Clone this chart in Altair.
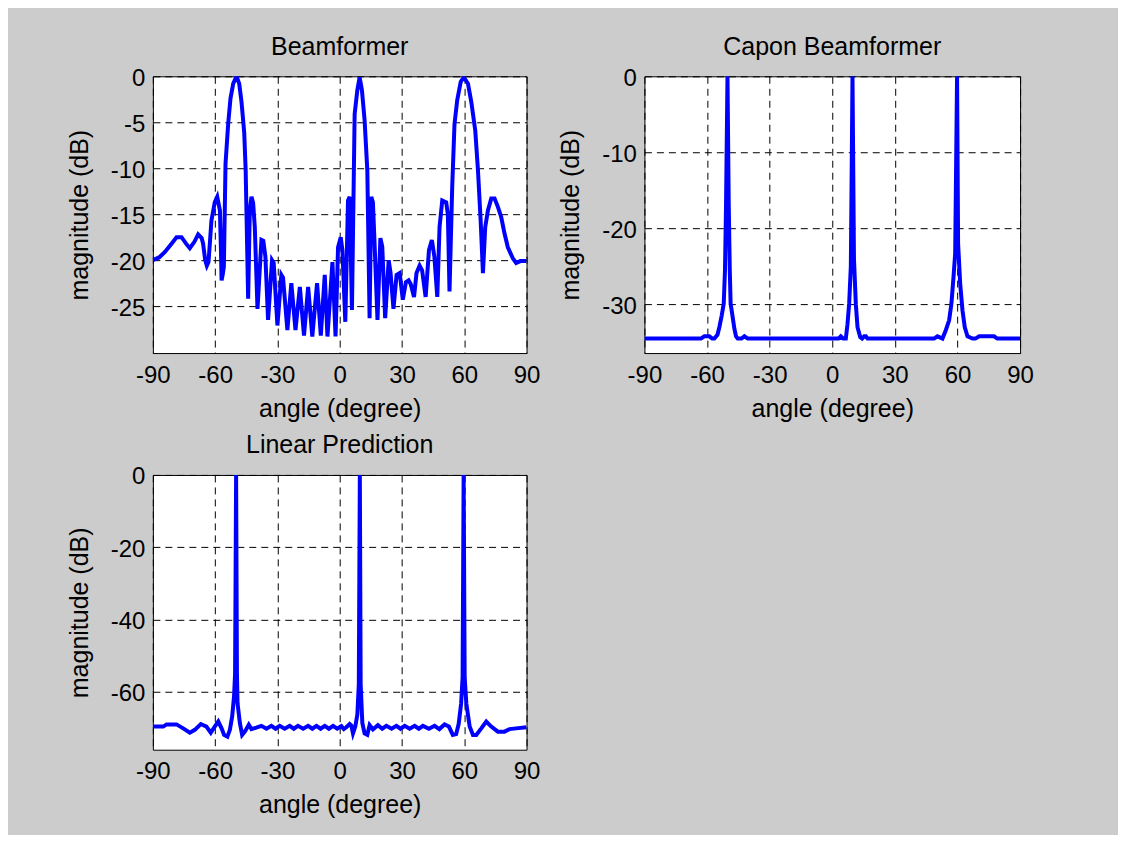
import altair as alt
import pandas as pd

FONT = "Liberation Sans"

# ---------------- data ----------------
bf_angle = [-90, -87, -84.2, -81, -78.6, -76.2, -74, -72.2, -70, -68.2, -66.5, -65.8, -64.8, -64.0, -63.2,
            -62.5, -61.8, -60.2, -59.0, -57.7, -57.2, -56.9, -56.3, -55.8, -55.0, -53.7, -52.6, -51.3,
            -49.7, -48.4, -47.3, -46.0, -45.3, -44.1, -43.3, -42.5, -41.7, -40.9, -39.6, -37.7, -36.8,
            -35.8, -34.5, -32.6, -31.8, -30.0, -28.1, -27.3, -25.2, -23.3, -21.3, -19.2, -17.2, -15.2,
            -13.2, -10.9, -9.1, -7.2, -5.9, -3.5, -2.0, -0.8, 0.5, 1.3, 2.7, 4.0, 4.8, 5.9, 7.2, 8.5,
            9.6, 10.7, 12.0, 13.3, 14.4, 15.2, 16.0, 16.8, 18.2, 19.6, 20.5, 21.9, 23.6, 24.5, 25.9,
            27.4, 28.9, 30.4, 31.9, 33.2, 34.2, 35.8, 37.0, 38.5, 39.7, 41.4, 43.0, 44.4, 45.6, 47.0,
            48.1, 49.4, 51.3, 52.1, 52.9, 54.2, 55.3, 56.6, 58.3, 59.8, 61.8, 63.4, 65.3, 66.6, 67.9,
            69.0, 70.1, 71.4, 73.0, 74.6, 76.2, 77.8, 79.4, 81.0, 83.4, 85.0, 87.0, 90]
bf_db = [-20.0, -19.7, -19.1, -18.2, -17.5, -17.5, -18.2, -18.7, -18.0, -17.2, -17.6, -18.2, -20.0, -20.6,
         -20.2, -18.0, -15.7, -13.7, -13.1, -14.6, -19.0, -22.2, -21.5, -20.7, -9.5, -5.1, -2.4, -0.8,
         0.0, -0.8, -2.8, -6.1, -10.2, -24.2, -14.6, -13.1, -13.8, -16.4, -25.3, -17.8, -17.9, -19.6,
         -26.5, -20.0, -20.3, -27.1, -21.6, -21.9, -27.6, -22.5, -27.6, -22.9, -28.2, -22.9, -28.3,
         -22.5, -28.2, -21.6, -28.3, -20.2, -28.3, -18.6, -17.5, -18.9, -26.7, -13.5, -13.1, -25.4,
         -4.1, -1.5, -0.1, -1.5, -4.8, -10.2, -26.3, -13.1, -13.7, -18.2, -26.5, -17.6, -18.5, -26.3,
         -20.0, -21.4, -25.3, -21.6, -21.4, -24.3, -22.4, -22.2, -22.6, -24.0, -21.4, -20.6, -21.1,
         -24.0, -18.9, -17.8, -19.6, -24.0, -16.4, -13.5, -13.7, -15.0, -23.4, -12.0, -5.2, -2.6,
         -0.6, -0.1, -0.8, -2.8, -5.9, -10.2, -15.7, -21.4, -16.4, -14.6, -13.3, -13.3, -14.2, -15.3,
         -17.1, -18.6, -19.8, -20.3, -20.1, -20.1]

cp_angle = [-90, -62.9, -61.3, -58.9, -57.5, -56.5, -55.0, -54.1, -53.0, -52.0, -51.4, -50.9, -50.2,
            -49.6, -49.1, -48.7, -47.7, -46.9, -46.1, -45.3, -43.5, -42.1, -40.5, 3.0, 4.1, 5.3, 6.5,
            7.3, 8.1, 8.9, 9.7, 10.4, 11.3, 12.1, 13.4, 14.3, 15.3, 16.1, 16.9, 48.8, 50.4, 52.8, 54.4,
            56.0, 57.1, 58.1, 58.9, 59.8, 60.3, 61.3, 62.4, 63.5, 64.8, 67.2, 68.6, 70.4, 77.5, 79.1, 90]
cp_db = [-34.5, -34.5, -34.2, -34.2, -34.5, -34.5, -34.0, -33.0, -31.5, -29.9, -25.5, -17.0, 0.0,
         -17.0, -25.5, -29.9, -31.7, -33.2, -34.2, -34.5, -34.5, -34.2, -34.5, -34.5, -34.2, -34.5,
         -34.5, -32.6, -29.9, -25.0, 0.0, -24.0, -30.0, -33.0, -34.3, -34.5, -34.2, -34.2, -34.5,
         -34.5, -34.2, -34.5, -33.4, -32.1, -29.9, -26.4, -23.3, 0.0, -22.0, -27.3, -30.8, -33.0,
         -34.2, -34.5, -34.5, -34.2, -34.2, -34.5, -34.5]

lp_angle = [-90, -85.0, -83.4, -78.6, -75.4, -72.2, -69.8, -66.9, -64.2, -62.1, -60.2, -58.5, -56.9,
            -55.7, -54.1, -52.9, -51.8, -50.9, -50.4, -49.9, -49.5, -49.2, -48.1, -47.0, -45.7, -43.8,
            -42.5, -40.2, -37.7, -35.3, -32.9, -30.9, -28.9, -26.5, -24.1, -22.1, -20.1, -17.6, -15.2,
            -13.2, -11.2, -9.2, -7.2, -5.2, -3.2, -1.2, 0.8, 2.0, 3.2, 4.8, 5.6, 6.4, 7.5, 8.5, 9.2,
            9.7, 10.1, 10.9, 12.0, 13.3, 14.4, 16.0, 18.4, 20.5, 22.5, 25.0, 27.3, 29.3, 31.3, 33.7,
            36.1, 38.1, 40.1, 43.0, 45.7, 48.0, 50.5, 52.6, 54.5, 56.1, 57.3, 58.5, 59.2, 59.7, 60.2,
            61.0, 62.6, 64.2, 65.8, 68.2, 70.6, 73.0, 76.2, 79.4, 81.8, 85.0, 90]
lp_db = [-69.6, -69.6, -69.0, -69.0, -70.1, -71.3, -70.5, -68.9, -69.6, -71.3, -69.6, -68.2, -70.1,
         -71.9, -72.4, -70.5, -66.8, -61.3, -55.0, 0.0, -55.0, -63.2, -68.6, -71.9, -71.0, -69.1,
         -70.3, -69.9, -69.4, -70.2, -69.4, -70.2, -69.4, -70.2, -69.4, -70.2, -69.4, -70.2, -69.4,
         -70.2, -69.4, -70.2, -69.4, -70.2, -69.4, -70.2, -69.5, -70.3, -69.8, -68.9, -69.3, -71.5,
         -69.6, -66.3, -58.0, 0.0, -58.0, -68.6, -71.5, -71.9, -69.2, -70.4, -69.2, -70.2, -69.4,
         -70.2, -69.4, -70.2, -69.4, -70.2, -69.4, -70.2, -69.4, -70.2, -69.4, -70.3, -69.0, -69.6,
         -71.9, -71.7, -68.9, -63.2, -56.0, 0.0, -56.0, -63.2, -69.6, -71.9, -71.9, -70.1, -68.2,
         -69.6, -71.0, -71.0, -70.3, -70.1, -69.8]

x_ticks = [-90, -60, -30, 0, 30, 60, 90]


def panel(angles, dbs, title, ydomain, yticks, w, h, toff):
    df = pd.DataFrame({"angle": angles, "db": dbs})
    return (
        alt.Chart(df, title=alt.Title(title, offset=toff, frame="group", anchor="middle",
                                      fontSize=25, font=FONT, fontWeight="normal", color="black"))
        .mark_line(color="#0000ff", strokeWidth=4, clip=True)
        .encode(
            x=alt.X("angle:Q", scale=alt.Scale(domain=[-90, 90], nice=False, zero=False),
                    axis=alt.Axis(values=x_ticks, title="angle (degree)", labelExpr="'' + datum.value",
                                  labelPadding=10, titlePadding=9)),
            y=alt.Y("db:Q", scale=alt.Scale(domain=ydomain, nice=False, zero=False),
                    axis=alt.Axis(values=yticks, title="magnitude (dB)", labelExpr="'' + datum.value",
                                  labelPadding=8, titlePadding=18, labelOffset=2)),
        )
        .properties(width=w, height=h)
    )


p1 = panel(bf_angle, bf_db, "Beamformer", [-30.1, 0], [-25, -20, -15, -10, -5, 0], 374, 277, 6)
p2 = panel(cp_angle, cp_db, "Capon Beamformer", [-36.4, 0], [-30, -20, -10, 0], 376, 277, 6)
p3 = panel(lp_angle, lp_db, "Linear Prediction", [-76, 0], [-60, -40, -20, 0], 374, 275, 7)

chart = (
    alt.concat(p1, p2, p3, columns=2, spacing={"row": 122, "column": 118}, bounds="flush")
    .properties(background="#cccccc", padding={"left": 58, "top": 26, "right": 84, "bottom": 16})
    .configure_view(fill="white", stroke="black", strokeWidth=1)
    .configure_axis(
        grid=True, gridColor="black", gridDash=[7, 5], gridWidth=1, gridOpacity=1,
        domain=False, ticks=False, tickSize=0,
        labelFont=FONT, labelFontSize=24, labelColor="black", labelFlush=False, labelOverlap=False,
        titleFont=FONT, titleFontSize=25, titleFontWeight="normal", titleColor="black",
    )
)

chart.save("out.html", embed_options={"renderer": "svg", "actions": False})
